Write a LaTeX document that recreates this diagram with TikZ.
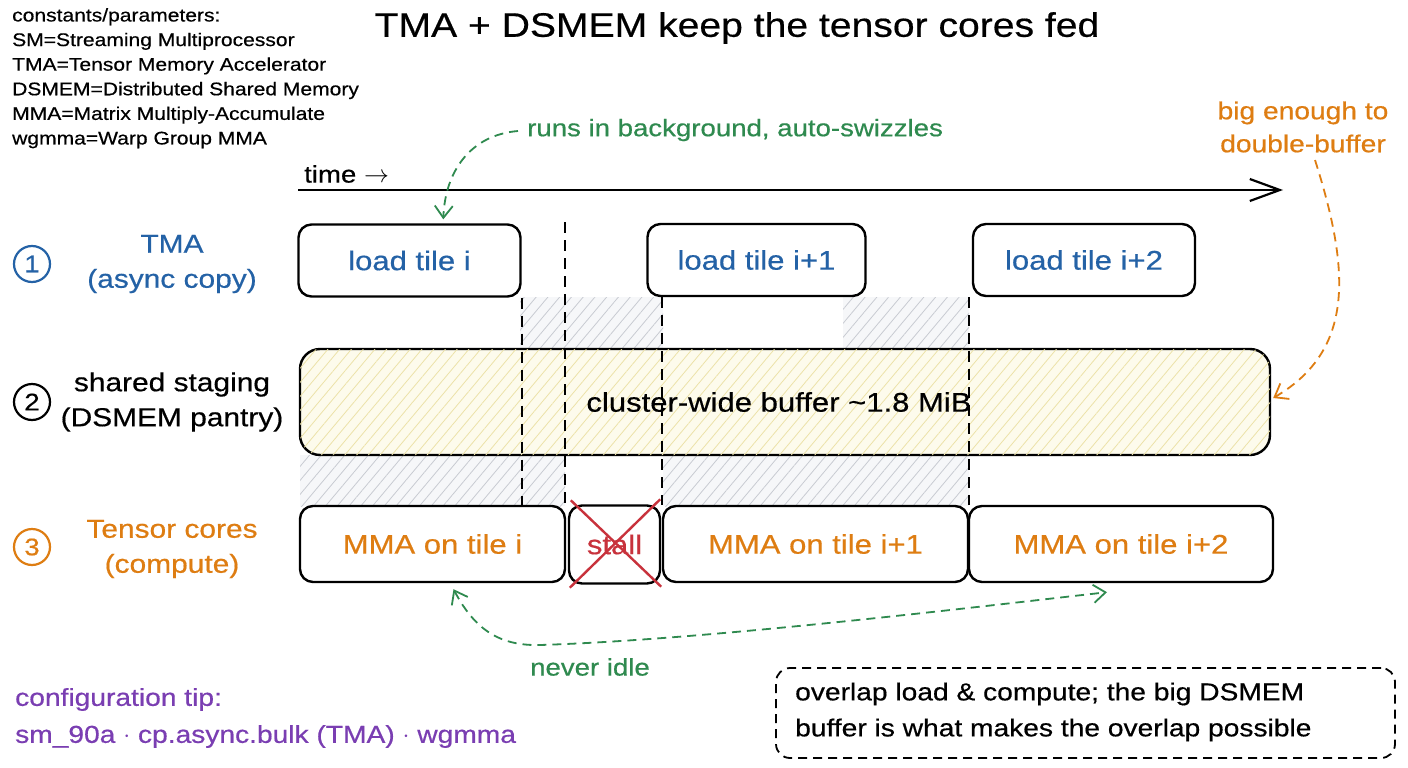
\documentclass[tikz,border=0pt]{standalone}
\usepackage{fontspec}
\setmainfont{Liberation Sans}[FakeStretch=1.15,FakeBold=0.5]
\usetikzlibrary{arrows.meta,patterns.meta,calc}
\definecolor{cblue}{RGB}{36,98,166}
\definecolor{corange}{RGB}{222,125,18}
\definecolor{cgreen}{RGB}{47,138,79}
\definecolor{cpurple}{RGB}{122,62,178}
\definecolor{cred}{RGB}{200,50,60}
\definecolor{bufill}{RGB}{253,251,236}
\definecolor{bufline}{RGB}{236,226,168}
\definecolor{bandfill}{RGB}{246,247,249}
\definecolor{bandline}{RGB}{200,203,210}
\newcommand{\fsz}[2]{\fontsize{#1}{#2}\selectfont}
\begin{document}
\begin{tikzpicture}[x=1pt,y=-1pt,
  tbox/.style={draw, line width=2.4pt, rounded corners=13pt, inner sep=0pt, fill=white},
  boxtxt/.style={font=\fsz{27}{32}},
  ann/.style={line width=1.8pt, dash pattern=on 9pt off 6pt},
  vdash/.style={line width=1.9pt, dash pattern=on 11pt off 7pt},
  band/.style={fill=bandfill, postaction={pattern={Lines[angle=50,distance=9pt,line width=0.8pt]}, pattern color=bandline}},
  numc/.style={circle, draw, line width=2.2pt, minimum size=36pt, inner sep=0pt, font=\fsz{24}{26}},
  rowlbl/.style={align=center, font=\fsz{26}{35}},
  barb/.style={-{Straight Barb[length=12pt,width=18pt]}}
]
\useasboundingbox (0,0) rectangle (1408,768);
\fill[white] (0,0) rectangle (1408,768);

% legend
\node[anchor=north west, inner sep=0pt, align=left, font=\fsz{18.3}{24.6}] (legend) at (12,8)
 {constants/parameters:\\SM=Streaming Multiprocessor\\TMA=Tensor Memory Accelerator\\DSMEM=Distributed Shared Memory\\MMA=Matrix Multiply-Accumulate\\wgmma=Warp Group MMA};

% title
\node[font=\fsz{34}{40}] (title) at (737,28) {TMA + DSMEM keep the tensor cores fed};

% time axis
\node[anchor=west, inner sep=0pt, font=\fsz{24}{28}] (time) at (304,174) {time $\rightarrow$};
\coordinate (t0) at (298,190);
\coordinate (t1) at (1283,190);
\draw[line width=2.2pt, -{Straight Barb[length=30pt,width=22pt]}] (t0) -- (t1);

% hatched bands
\path[band] (520,297) rectangle (663,349);
\path[band] (843,297) rectangle (969,349);
\path[band] (300,455) rectangle (565,506);
\path[band] (663,455) rectangle (969,506);

% buffer
\node[tbox, rounded corners=20pt, minimum width=970pt, minimum height=106pt,
  fill=bufill, postaction={pattern={Lines[angle=50,distance=9pt,line width=0.8pt]}, pattern color=bufline}] (buf) at (785,402) {};
\node[boxtxt] (buftxt) at (779,402) {cluster-wide buffer \char"007E 1.8 MiB};

% load boxes
\node[tbox, minimum width=222pt, minimum height=72pt, text=cblue, boxtxt] (ld1) at (409.5,260.5) {load tile i};
\node[tbox, minimum width=218pt, minimum height=72pt, text=cblue, boxtxt] (ld2) at (756.5,260) {load tile i+1};
\node[tbox, minimum width=222pt, minimum height=72pt, text=cblue, boxtxt] (ld3) at (1084,260) {load tile i+2};

% MMA boxes
\node[tbox, minimum width=265pt, minimum height=76pt, text=corange, boxtxt] (mma1) at (432.5,544) {MMA on tile i};
\node[tbox, minimum width=91pt, minimum height=78pt, text=cred, boxtxt] (stall) at (614.5,544.5) {stall};
\node[tbox, minimum width=305pt, minimum height=76pt, text=corange, boxtxt] (mma2) at (815.5,544) {MMA on tile i+1};
\node[tbox, minimum width=304pt, minimum height=76pt, text=corange, boxtxt] (mma3) at (1121,544) {MMA on tile i+2};

% stall cross
\draw[cred, line width=2.4pt] ($(stall.north west)+(3,-4)$) -- ($(stall.south east)+(0,2)$);
\draw[cred, line width=2.4pt] ($(stall.north east)+(-1,-5)$) -- ($(stall.south west)+(2,3)$);

% vertical dashed lines
\coordinate (v2top) at (565,222);
\draw[vdash] (ld1.south east) -- (ld1.south east |- mma1.north);
\draw[vdash] (v2top) -- (v2top |- mma1.north);
\draw[vdash] (mma2.north west |- ld2.south) -- (mma2.north west);
\draw[vdash] (mma2.north east |- ld3.south) -- (mma2.north east);

% row labels
\node[numc, draw=cblue, text=cblue] (n1) at (32,264) {1};
\node[rowlbl, text=cblue] (r1) at (172,264) {TMA\\(async copy)};
\node[numc] (n2) at (32,402) {2};
\node[rowlbl] (r2) at (172,402) {shared staging\\(DSMEM pantry)};
\node[numc, draw=corange, text=corange] (n3) at (32,547) {3};
\node[rowlbl, text=corange] (r3) at (172,549) {Tensor cores\\(compute)};

% annotations
\node[anchor=west, inner sep=0pt, text=cgreen, font=\fsz{24}{28}] (run) at (527,130) {runs in background, auto-swizzles};
\draw[ann, cgreen, barb] ($(run.west)+(-9,1)$) .. controls (470,135) and (445,172) .. ($(ld1.north west)+(146,-4)$);

\node[align=center, text=corange, font=\fsz{24.5}{33}] (big) at (1303,127) {big enough to\\double-buffer};
\draw[ann, corange, barb] ($(big.south)+(12,4)$) .. controls (1350,270) and (1355,350) .. ($(buf.east)+(2,-4)$);

\node[text=cgreen, font=\fsz{24}{28}] (idle) at (590,667) {never idle};
\draw[ann, cgreen, {Straight Barb[length=12pt,width=18pt]}-{Straight Barb[length=12pt,width=18pt]}]
  ($(mma1.south)+(21,6)$) .. controls (475,630) and (500,646) .. (540,645)
  .. controls (700,640) and (950,610) .. ($(mma3.south)+(-14,9)$);

% config tip
\node[anchor=west, inner sep=0pt, align=left, text=cpurple, font=\fsz{24.5}{37}] (tip) at (15,718)
 {configuration tip:\\sm\_90a $\cdot$ cp.async.bulk (TMA) $\cdot$ wgmma};

% note box
\node[draw, line width=1.8pt, dash pattern=on 9pt off 6pt, rounded corners=14pt,
  minimum width=619pt, minimum height=90pt, inner sep=0pt] (note) at (1085.5,713) {};
\node[anchor=west, inner sep=0pt, align=left, font=\fsz{24.5}{36}] (notetxt) at (795,712)
 {overlap load \& compute; the big DSMEM\\buffer is what makes the overlap possible};
\end{tikzpicture}
\end{document}
